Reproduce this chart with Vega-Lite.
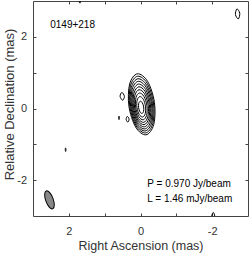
{
  "$schema": "https://vega.github.io/schema/vega-lite/v6.json",
  "width": 215,
  "height": 215,
  "autosize": {"type": "none"},
  "padding": {"left": 33, "top": 1, "right": 1, "bottom": 38},
  "background": "white",
  "config": {"view": {"stroke": "#444", "strokeWidth": 1}, "font": "Liberation Sans"},
  "datasets": {
    "contours": [
      {"c":"k0","i":0,"x":0.323,"y":0.067},{"c":"k0","i":1,"x":0.303,"y":0.683},{"c":"k0","i":2,"x":0.087,"y":0.968},{"c":"k0","i":3,"x":-0.200,"y":0.754},{"c":"k0","i":4,"x":-0.389,"y":0.167},{"c":"k0","i":5,"x":-0.369,"y":-0.449},{"c":"k0","i":6,"x":-0.153,"y":-0.734},{"c":"k0","i":7,"x":0.134,"y":-0.520},
      {"c":"k1","i":0,"x":0.299,"y":0.063},{"c":"k1","i":1,"x":0.280,"y":0.636},{"c":"k1","i":2,"x":0.079,"y":0.901},{"c":"k1","i":3,"x":-0.187,"y":0.702},{"c":"k1","i":4,"x":-0.363,"y":0.156},{"c":"k1","i":5,"x":-0.344,"y":-0.416},{"c":"k1","i":6,"x":-0.143,"y":-0.681},{"c":"k1","i":7,"x":0.123,"y":-0.482},
      {"c":"k2","i":0,"x":0.274,"y":0.059},{"c":"k2","i":1,"x":0.257,"y":0.586},{"c":"k2","i":2,"x":0.072,"y":0.830},{"c":"k2","i":3,"x":-0.173,"y":0.647},{"c":"k2","i":4,"x":-0.334,"y":0.145},{"c":"k2","i":5,"x":-0.317,"y":-0.382},{"c":"k2","i":6,"x":-0.132,"y":-0.626},{"c":"k2","i":7,"x":0.113,"y":-0.443},
      {"c":"k3","i":0,"x":0.249,"y":0.055},{"c":"k3","i":1,"x":0.233,"y":0.535},{"c":"k3","i":2,"x":0.064,"y":0.758},{"c":"k3","i":3,"x":-0.159,"y":0.591},{"c":"k3","i":4,"x":-0.307,"y":0.133},{"c":"k3","i":5,"x":-0.291,"y":-0.347},{"c":"k3","i":6,"x":-0.122,"y":-0.570},{"c":"k3","i":7,"x":0.101,"y":-0.403},
      {"c":"k4","i":0,"x":0.222,"y":0.050},{"c":"k4","i":1,"x":0.208,"y":0.481},{"c":"k4","i":2,"x":0.057,"y":0.681},{"c":"k4","i":3,"x":-0.144,"y":0.531},{"c":"k4","i":4,"x":-0.276,"y":0.120},{"c":"k4","i":5,"x":-0.262,"y":-0.311},{"c":"k4","i":6,"x":-0.111,"y":-0.511},{"c":"k4","i":7,"x":0.090,"y":-0.361},
      {"c":"k5","i":0,"x":0.195,"y":0.046},{"c":"k5","i":1,"x":0.182,"y":0.428},{"c":"k5","i":2,"x":0.048,"y":0.605},{"c":"k5","i":3,"x":-0.130,"y":0.472},{"c":"k5","i":4,"x":-0.247,"y":0.108},{"c":"k5","i":5,"x":-0.234,"y":-0.274},{"c":"k5","i":6,"x":-0.100,"y":-0.451},{"c":"k5","i":7,"x":0.078,"y":-0.318},
      {"c":"k6","i":0,"x":0.166,"y":0.041},{"c":"k6","i":1,"x":0.156,"y":0.371},{"c":"k6","i":2,"x":0.040,"y":0.523},{"c":"k6","i":3,"x":-0.113,"y":0.409},{"c":"k6","i":4,"x":-0.214,"y":0.095},{"c":"k6","i":5,"x":-0.204,"y":-0.235},{"c":"k6","i":6,"x":-0.088,"y":-0.387},{"c":"k6","i":7,"x":0.065,"y":-0.273},
      {"c":"k7","i":0,"x":0.135,"y":0.036},{"c":"k7","i":1,"x":0.126,"y":0.307},{"c":"k7","i":2,"x":0.031,"y":0.432},{"c":"k7","i":3,"x":-0.095,"y":0.338},{"c":"k7","i":4,"x":-0.179,"y":0.080},{"c":"k7","i":5,"x":-0.170,"y":-0.191},{"c":"k7","i":6,"x":-0.075,"y":-0.316},{"c":"k7","i":7,"x":0.051,"y":-0.222},
      {"c":"k8","i":0,"x":0.099,"y":0.030},{"c":"k8","i":1,"x":0.093,"y":0.237},{"c":"k8","i":2,"x":0.020,"y":0.332},{"c":"k8","i":3,"x":-0.076,"y":0.260},{"c":"k8","i":4,"x":-0.139,"y":0.064},{"c":"k8","i":5,"x":-0.133,"y":-0.143},{"c":"k8","i":6,"x":-0.060,"y":-0.238},{"c":"k8","i":7,"x":0.036,"y":-0.166},
      {"c":"k9","i":0,"x":0.053,"y":0.022},{"c":"k9","i":1,"x":0.049,"y":0.145},{"c":"k9","i":2,"x":0.006,"y":0.202},{"c":"k9","i":3,"x":-0.051,"y":0.159},{"c":"k9","i":4,"x":-0.089,"y":0.042},{"c":"k9","i":5,"x":-0.085,"y":-0.081},{"c":"k9","i":6,"x":-0.042,"y":-0.138},{"c":"k9","i":7,"x":0.015,"y":-0.095},
      {"c":"f1","i":0,"x":0.57,"y":0.34},{"c":"f1","i":1,"x":0.52,"y":0.45},{"c":"f1","i":2,"x":0.45,"y":0.34},{"c":"f1","i":3,"x":0.50,"y":0.23},
      {"c":"f2","i":0,"x":0.615,"y":-0.26},{"c":"f2","i":1,"x":0.60,"y":-0.21},{"c":"f2","i":2,"x":0.585,"y":-0.26},{"c":"f2","i":3,"x":0.60,"y":-0.31},
      {"c":"f3","i":0,"x":0.40,"y":-0.31},{"c":"f3","i":1,"x":0.37,"y":-0.22},{"c":"f3","i":2,"x":0.32,"y":-0.29},{"c":"f3","i":3,"x":0.35,"y":-0.38},
      {"c":"f4","i":0,"x":2.10,"y":-1.15},{"c":"f4","i":1,"x":2.09,"y":-1.10},{"c":"f4","i":2,"x":2.08,"y":-1.15},{"c":"f4","i":3,"x":2.09,"y":-1.20},
      {"c":"f5","i":0,"x":-2.65,"y":2.62},{"c":"f5","i":1,"x":-2.69,"y":2.78},{"c":"f5","i":2,"x":-2.77,"y":2.66},{"c":"f5","i":3,"x":-2.73,"y":2.50},
      {"c":"f6","i":0,"x":-1.99,"y":-3.0},{"c":"f6","i":1,"x":-2.03,"y":-2.90},{"c":"f6","i":2,"x":-2.07,"y":-3.0},{"c":"f6","i":3,"x":-2.03,"y":-3.1},
      {"c":"f7","i":0,"x":1.71,"y":3.0},{"c":"f7","i":1,"x":1.69,"y":3.05},{"c":"f7","i":2,"x":1.67,"y":3.0},{"c":"f7","i":3,"x":1.69,"y":2.94}
    ],
    "beam": [{"x": 2.54, "y": -2.55}],
    "notes": [
      {"t": "0149+218", "x": 2.52, "y": 2.25},
      {"t": "P = 0.970 Jy/beam", "x": -0.19, "y": -2.2},
      {"t": "L = 1.46 mJy/beam", "x": -0.19, "y": -2.62}
    ]
  },
  "layer": [
    {
      "data": {"name": "contours"},
      "mark": {"type": "line", "interpolate": "cardinal-closed", "color": "black", "strokeWidth": 1, "clip": true},
      "encoding": {
        "x": {"field": "x", "type": "quantitative", "scale": {"domain": [3, -3], "nice": false, "zero": false},
          "axis": {"orient": "bottom", "values": [-2, -1, 0, 1, 2], "labelExpr": "datum.value == 0 ? '0' : (datum.value == 2 ? '2' : (datum.value == -2 ? '-2' : ''))",
            "tickSize": -3, "tickColor": "#444", "domain": false, "grid": false, "labelPadding": 12, "labelFontSize": 11, "labelColor": "#333", "labelFont": "Liberation Sans",
            "title": "Right Ascension (mas)", "titleFontSize": 12.5, "titleFontWeight": "normal", "titleColor": "#333", "titleFont": "Liberation Sans",
            "titleX": 107.5, "titleY": 33, "titleBaseline": "alphabetic", "titleAnchor": "middle", "titleAlign": "center"}},
        "y": {"field": "y", "type": "quantitative", "scale": {"domain": [-3, 3], "nice": false, "zero": false},
          "axis": {"orient": "left", "values": [-2, -1, 0, 1, 2], "labelExpr": "datum.value == 0 ? '0' : (datum.value == 2 ? '2' : (datum.value == -2 ? '-2' : ''))",
            "tickSize": -3, "tickColor": "#444", "domain": false, "grid": false, "labelPadding": 9.5, "labelFontSize": 11, "labelColor": "#333", "labelFont": "Liberation Sans",
            "title": "Relative Declination (mas)", "titleFontSize": 13, "titleFontWeight": "normal", "titleColor": "#333", "titleFont": "Liberation Sans",
            "titleX": -20, "titleY": 103, "titleBaseline": "alphabetic", "titleAngle": -90, "titleAlign": "center"}},
        "detail": {"field": "c", "type": "nominal"},
        "order": {"field": "i", "type": "quantitative"}
      }
    },
    {
      "data": {"name": "beam"},
      "mark": {"type": "point", "shape": "M0,-1A0.4,1,0,1,1,0,1A0.4,1,0,1,1,0,-1Z", "size": 361, "angle": 340, "filled": true, "fill": "#888", "stroke": "black", "strokeWidth": 1, "opacity": 1},
      "encoding": {
        "x": {"field": "x", "type": "quantitative", "scale": {"domain": [3, -3], "nice": false, "zero": false}, "axis": null},
        "y": {"field": "y", "type": "quantitative", "scale": {"domain": [-3, 3], "nice": false, "zero": false}, "axis": null}
      }
    },
    {
      "data": {"name": "notes"},
      "mark": {"type": "text", "align": "left", "baseline": "alphabetic", "fontSize": 10, "font": "Liberation Sans", "color": "black"},
      "encoding": {
        "x": {"field": "x", "type": "quantitative", "scale": {"domain": [3, -3], "nice": false, "zero": false},
          "axis": {"orient": "top", "values": [-2, -1, 0, 1, 2], "labels": false, "title": null, "domain": false, "grid": false, "tickSize": -3, "tickColor": "#444"}},
        "y": {"field": "y", "type": "quantitative", "scale": {"domain": [-3, 3], "nice": false, "zero": false},
          "axis": {"orient": "right", "values": [-2, -1, 0, 1, 2], "labels": false, "title": null, "domain": false, "grid": false, "tickSize": -3, "tickColor": "#444"}},
        "text": {"field": "t", "type": "nominal"}
      }
    }
  ],
  "resolve": {"axis": {"x": "independent", "y": "independent"}}
}
